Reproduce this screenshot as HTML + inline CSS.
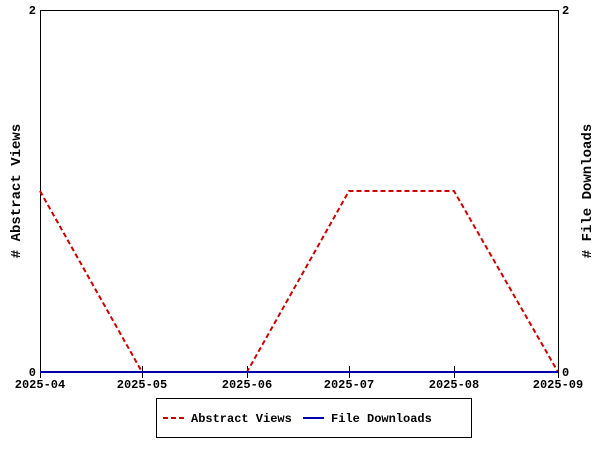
<!DOCTYPE html>
<html><head><style>body{margin:0;background:#fff}</style></head><body>
<svg width="600" height="450" xmlns="http://www.w3.org/2000/svg" font-family="Liberation Mono, DejaVu Sans Mono, monospace" font-weight="bold">
<rect width="600" height="450" fill="#fff"/>
<rect x="40.5" y="10.5" width="518" height="362" fill="none" stroke="#000" stroke-width="1"/>
<g stroke="#000" stroke-width="1">
<line x1="40.5" y1="372" x2="40.5" y2="378"/>
<line x1="142.5" y1="366" x2="142.5" y2="378"/>
<line x1="247.5" y1="366" x2="247.5" y2="378"/>
<line x1="349.5" y1="366" x2="349.5" y2="378"/>
<line x1="454.5" y1="366" x2="454.5" y2="378"/>
<line x1="558.5" y1="372" x2="558.5" y2="378"/>
</g>
<g font-size="12" fill="#000">
<text x="36" y="14" text-anchor="end">2</text>
<text x="36" y="376" text-anchor="end">0</text>
<text x="562" y="14">2</text>
<text x="562" y="376">0</text>
<g text-anchor="middle">
<text x="40" y="388">2025-04</text>
<text x="142" y="388">2025-05</text>
<text x="247" y="388">2025-06</text>
<text x="349" y="388">2025-07</text>
<text x="454" y="388">2025-08</text>
<text x="558" y="388">2025-09</text>
</g>
<text transform="translate(20,191) rotate(-90)" text-anchor="middle" font-size="14">  # Abstract Views</text>
<text transform="translate(591,191) rotate(-90)" text-anchor="middle" font-size="14"># File Downloads</text>
</g>
<polyline points="40,191 142,372 247,372 349,191 454,191 558,372" fill="none" stroke="#cc0000" stroke-width="2" stroke-dasharray="5,3"/>
<line x1="40" y1="372" x2="558" y2="372" stroke="#0000aa" stroke-width="2"/>
<rect x="156.5" y="398.5" width="315" height="39" fill="#fff" stroke="#000"/>
<line x1="163" y1="418" x2="184" y2="418" stroke="#cc0000" stroke-width="2" stroke-dasharray="5,3"/>
<text x="191" y="422" font-size="12">Abstract Views</text>
<line x1="303" y1="418" x2="324" y2="418" stroke="#0000aa" stroke-width="2"/>
<text x="331" y="422" font-size="12">File Downloads</text>
</svg>
</body></html>
